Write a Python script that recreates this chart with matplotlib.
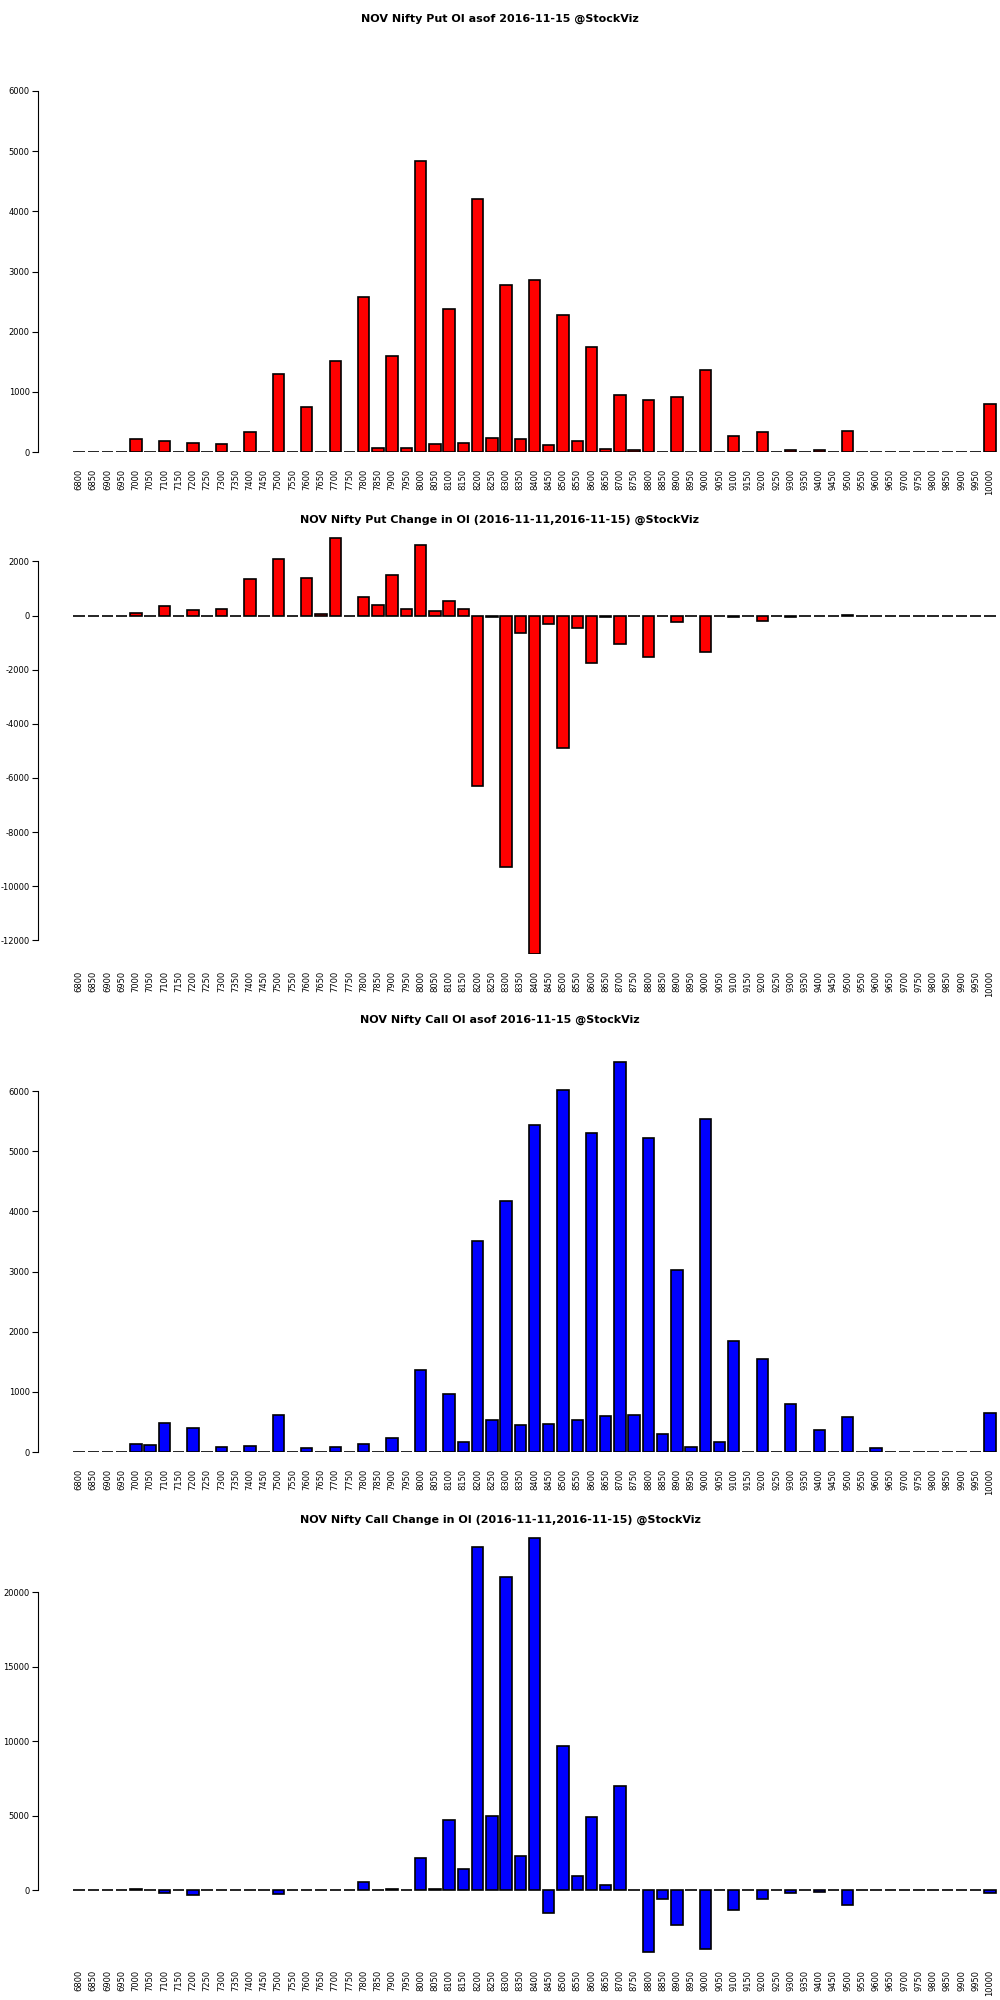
import matplotlib.pyplot as plt
import numpy as np

strikes = list(range(6800, 10001, 50))

put_oi = [0, 0, 0, 0, 220, 0, 190, 0, 150, 0, 130, 0, 330, 0, 1300, 0, 750, 0, 1520, 0,
          2580, 60, 1600, 70, 4830, 130, 2380, 150, 4200, 230, 2770, 210, 2860, 110, 2270, 190,
          1750, 50, 940, 30, 870, 0, 920, 0, 1360, 0, 270, 0, 330, 0, 30, 0, 30, 0, 350,
          0, 0, 0, 0, 0, 0, 0, 0, 0, 800]
put_chg = [0, 0, 0, 0, 100, 0, 350, 0, 200, 0, 250, 0, 1350, 0, 2100, 0, 1400, 50, 2850, 0,
           700, 400, 1500, 250, 2600, 150, 550, 250, -6300, -50, -9300, -650, -12500, -300, -4900, -450,
           -1750, -50, -1050, 0, -1550, 0, -250, 0, -1350, 0, -50, 0, -200, 0, -50, 0, 0, 0, 30,
           0, 0, 0, 0, 0, 0, 0, 0, 0, 0]
call_oi = [0, 0, 0, 0, 130, 110, 480, 0, 400, 0, 90, 0, 100, 0, 620, 0, 70, 0, 90, 0,
           130, 0, 230, 0, 1360, 0, 960, 160, 3500, 530, 4180, 450, 5440, 460, 6020, 540,
           5300, 600, 6480, 610, 5220, 300, 3030, 80, 5530, 160, 1840, 0, 1540, 0, 790, 0, 370, 0, 580,
           0, 70, 0, 0, 0, 0, 0, 0, 0, 650]
call_chg = [0, 0, 0, 0, 100, 0, -150, 0, -300, 0, 0, 0, 0, 0, -250, 0, 0, 0, 0, 0,
            550, 50, 100, 0, 2200, 100, 4700, 1450, 23000, 5000, 21000, 2300, 23600, -1500, 9700, 950,
            4900, 350, 7000, 0, -4100, -600, -2300, 0, -3900, 0, -1300, 0, -600, 0, -150, 0, -100, 0, -1000,
            0, 0, 0, 0, 0, 0, 0, 0, 0, -200]

panels = [
    ("NOV Nifty Put OI asof 2016-11-15 @StockViz", put_oi, "red", (0, 6000), 91, 452, np.arange(0, 6001, 1000), 19),
    ("NOV Nifty Put Change in OI (2016-11-11,2016-11-15) @StockViz", put_chg, "red", (-12500, 2900), 537, 954, np.arange(-12000, 2001, 2000), 520),
    ("NOV Nifty Call OI asof 2016-11-15 @StockViz", call_oi, "blue", (0, 6500), 1061, 1452, np.arange(0, 6001, 1000), 1020),
    ("NOV Nifty Call Change in OI (2016-11-11,2016-11-15) @StockViz", call_chg, "blue", (-4200, 23700), 1537, 1953, np.arange(0, 20001, 5000), 1520),
]

W, H = 1000, 2000
fig = plt.figure(figsize=(10, 20), dpi=100)
x = np.arange(len(strikes))
left_px = 38
for title, vals, col, ylim, top_px, bot_px, ticks, title_px in panels:
    ax = fig.add_axes([left_px / W, 1 - bot_px / H, (W - left_px) / W, (bot_px - top_px) / H])
    ax.bar(x, vals, width=0.8, color=col, edgecolor="black", linewidth=1.2)
    ax.set_xlim(-2.88, 64.7)
    ax.set_ylim(*ylim)
    for s in ["top", "right", "bottom"]:
        ax.spines[s].set_visible(False)
    ax.spines["left"].set_bounds(ticks[0], ticks[-1])
    ax.set_yticks(ticks)
    ax.set_yticklabels([str(t) for t in ticks], fontsize=6)
    ax.set_xticks(x)
    ax.set_xticklabels([str(s) for s in strikes], rotation=90, fontsize=6)
    ax.tick_params(axis="x", length=0, pad=12)
    ax.tick_params(axis="y", length=4, pad=2)
    fig.text(0.5, 1 - title_px / H, title, ha="center", va="center", fontsize=8, fontweight="bold")

fig.savefig("out.png", dpi=100)
